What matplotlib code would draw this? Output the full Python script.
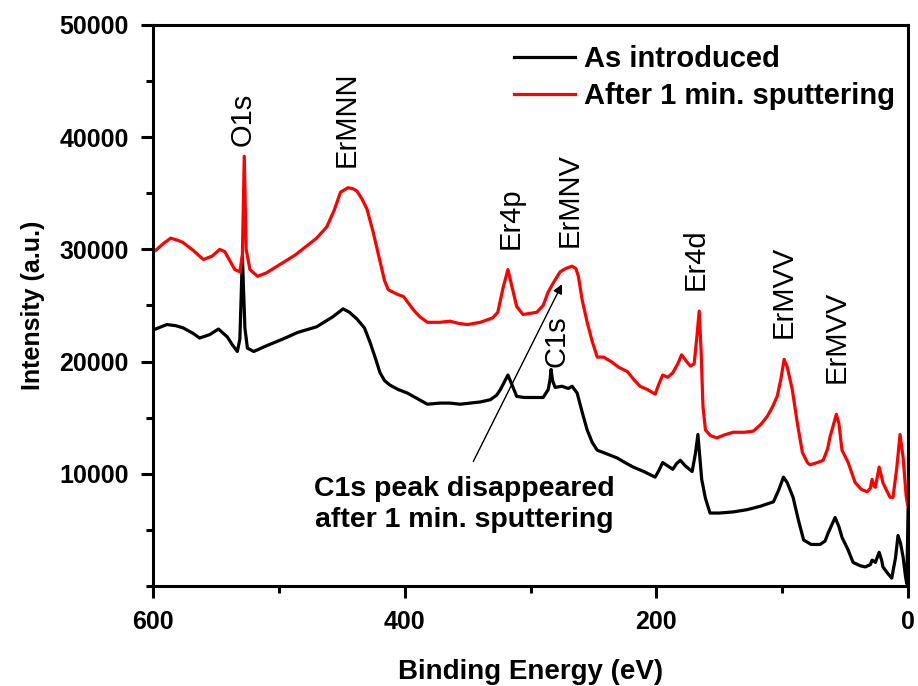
import numpy as np
import matplotlib
matplotlib.use("Agg")
import matplotlib.pyplot as plt
from matplotlib.ticker import MultipleLocator

plt.rcParams['font.family'] = ['Liberation Sans', 'DejaVu Sans']

# binding energy (eV) and intensity
be_sputtered = [600, 598, 592, 586, 580, 576, 568, 560, 553, 547, 543, 538, 535, 531, 529,
                527.5, 526, 523, 517, 510, 497, 487, 478, 470, 462, 456, 451, 445, 441, 438,
                434, 430, 425, 420, 416, 413, 406, 401, 397, 393, 388, 382, 372, 364, 357,
                350, 340, 330, 326, 322, 318, 315, 311, 306, 300, 295, 290, 286, 282, 276.5,
                272, 267, 264, 262, 259, 255, 251, 247, 242, 236, 230, 223, 218, 213, 207,
                201, 198, 195, 191, 187, 183, 180, 176, 173, 170, 168, 166, 164.5, 163, 161,
                157, 152, 145, 139, 130, 123, 117, 112, 108, 104, 101, 98.5, 96, 92, 88,
                84, 80, 78, 72, 67.5, 64, 62, 57, 55, 52.5, 47.6, 42, 37, 32.6, 30,
                28.6, 27, 26, 23, 21, 20, 17, 14.3, 12, 9, 6.4, 4, 1.5, 0]
i_sputtered = [29800, 29900, 30500, 31000, 30800, 30600, 29900, 29100, 29400, 30000, 29800, 28800, 28200, 28000, 29500,
               38300, 30000, 28200, 27600, 27900, 28800, 29500, 30300, 31000, 32000, 33500, 35100, 35500, 35400, 35200,
               34500, 33600, 31500, 29100, 27200, 26400, 26000, 25800, 25200, 24600, 24000, 23500, 23500, 23600, 23400,
               23300, 23500, 23900, 24400, 26500, 28200, 26800, 24900, 24200, 24300, 24400, 25000, 26200, 27000, 28000,
               28300, 28500, 28300, 27600, 25500, 23500, 21800, 20400, 20400, 20000, 19500, 19100, 18400, 17800, 17500,
               17100, 18000, 18800, 18600, 19000, 19800, 20600, 20000, 19600, 19800, 22000, 24500, 21000, 16000, 13900,
               13400, 13200, 13500, 13700, 13700, 13800, 14400, 15100, 15900, 16900, 18500, 20200, 19500, 17500, 14500,
               11900, 11000, 10800, 11000, 11200, 12200, 13300, 15300, 14500, 12100, 11000, 9200, 8600, 8400, 8700,
               9500, 8900, 8800, 10600, 9700, 9200, 8500, 7900, 7900, 10500, 13500, 11500, 8000, 7000]

be_introduced = [600, 598, 589, 582, 576, 568, 563, 555, 548, 541, 537, 533, 531, 529, 527,
                 525, 520, 510, 497, 485, 470, 457, 449, 444, 438, 432, 427.5, 423, 419.6, 416,
                 411.7, 405, 398, 390, 382, 372, 364, 356, 348, 340, 332, 327, 324, 318, 315,
                 311, 305, 295, 290, 286, 284.5, 283.7, 282.5, 280.5, 275, 270, 267, 263, 259,
                 255, 251, 247, 240, 231, 225, 218.5, 210, 201, 198, 195, 191, 187, 184, 181,
                 177, 171.6, 169, 167, 165.5, 164, 161, 157.4, 150, 139, 128, 117.6, 107, 103,
                 99, 96, 91.4, 87, 83, 77, 70, 66, 63.6, 58, 55, 52.4, 48, 43.7, 38, 34,
                 30, 28.6, 27, 26, 23, 21, 20, 16, 13, 10, 8, 6, 4, 2, 1, 0]
i_introduced = [22800, 22900, 23300, 23200, 23000, 22500, 22100, 22400, 22900, 22200, 21500, 20900, 22000, 29400, 23000,
                21200, 20900, 21400, 22000, 22600, 23100, 24000, 24700, 24400, 23800, 23000, 21700, 20200, 19000, 18300,
                17900, 17500, 17200, 16700, 16200, 16300, 16300, 16200, 16300, 16400, 16600, 17000, 17500, 18800, 18000,
                16900, 16800, 16800, 16800, 17500, 18400, 19300, 18300, 17700, 17800, 17600, 17800, 17200, 15500,
                13900, 12800, 12100, 11800, 11400, 11000, 10600, 10200, 9700, 10300, 11000, 10700, 10400, 10900, 11200,
                10700, 10200, 11800, 13500, 11500, 9500, 7800, 6500, 6500, 6600, 6800, 7100, 7500, 8500,
                9700, 9200, 7900, 5800, 4100, 3700, 3700, 4000, 4700, 6100, 5300, 4300, 3300, 2100, 1800, 1700,
                1900, 2300, 2200, 2100, 3000, 2300, 1700, 1100, 700, 2500, 4500, 3800, 2600, 800, 200, 6800]

peak_names = ["O1s", "ErMNN", "Er4p", "ErMNV", "C1s", "Er4d", "ErMVV", "ErMVV"]
peak_be = [529, 446, 316, 269, 279, 169, 99, 57]
peak_label_y = [39200, 37300, 30000, 30200, 19550, 26400, 22100, 18100]

note = "C1s peak disappeared\nafter 1 min. sputtering"
note_xy = (353, 7300)
arrow_tail = (345.5, 11100)
arrow_head = (275, 26900)

fig = plt.figure(figsize=(9.18, 6.86), dpi=100)
ax = fig.add_axes([0.1667, 0.1458, 0.8225, 0.8178])

ax.plot(be_introduced, i_introduced, color='black', lw=2.3, label='As introduced')
ax.plot(be_sputtered, i_sputtered, color='red', lw=2.3, label='After 1 min. sputtering')

for name, x, y in zip(peak_names, peak_be, peak_label_y):
    ax.text(x, y, name, rotation=90, ha='center', va='bottom', fontsize=21)

ax.text(note_xy[0], note_xy[1], note, ha='center', va='center', fontsize=20.5,
        fontweight='bold', linespacing=1.25)
ax.annotate("", xy=arrow_head, xytext=arrow_tail,
            arrowprops=dict(arrowstyle='-|>', color='black', lw=1, mutation_scale=14,
                            shrinkA=0, shrinkB=0))

ax.set_xlim(600, 0)
ax.set_ylim(0, 50000)
ax.set_xticks([600, 400, 200, 0])
ax.set_yticks([10000, 20000, 30000, 40000, 50000])
ax.xaxis.set_minor_locator(MultipleLocator(100))
ax.yaxis.set_minor_locator(MultipleLocator(5000))
ax.tick_params(which='major', direction='out', length=8.5, width=2.2, labelsize=18, pad=9)
ax.tick_params(which='minor', direction='out', length=5, width=2.2)
ax.tick_params(top=False, right=False, which='both')
for lab in ax.get_xticklabels() + ax.get_yticklabels():
    lab.set_fontweight('bold')
for sp in ax.spines.values():
    sp.set_linewidth(2.2)

ax.set_xlabel("Binding Energy (eV)", fontsize=20, fontweight='bold', labelpad=18)
ax.set_ylabel("Intensity (a.u.)", fontsize=18, fontweight='bold', labelpad=10)

leg = ax.legend(loc='upper right', bbox_to_anchor=(1.0, 0.9875), frameon=False, fontsize=21,
                handlelength=2.1, handletextpad=0.3, labelspacing=0.3, borderaxespad=0.05)
for t in leg.get_texts():
    t.set_fontweight('bold')

fig.savefig("out.png", dpi=100)
